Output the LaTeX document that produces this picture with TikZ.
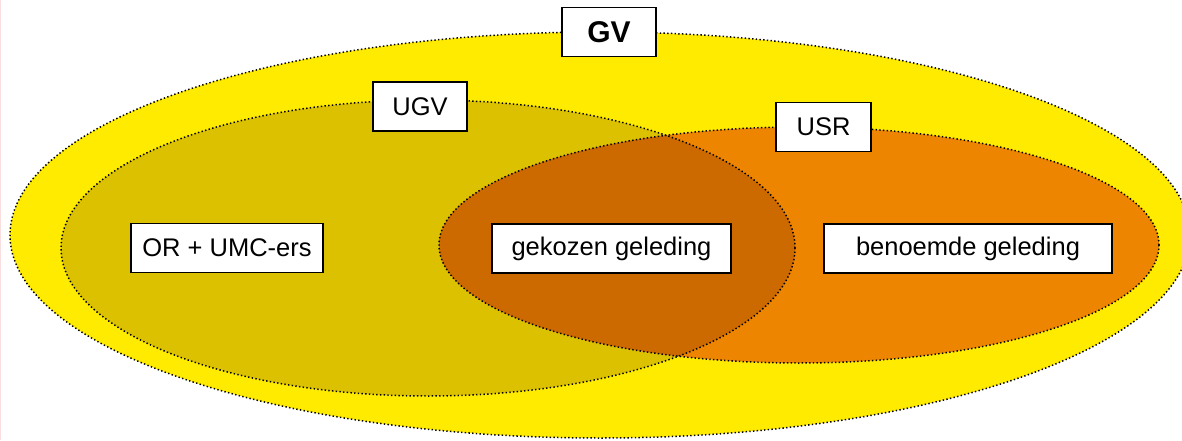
\documentclass[tikz,border=0pt]{standalone}
\usepackage{fontspec}
\setmainfont{Liberation Sans}
\usepackage{tikz}

\definecolor{gvyellow}{RGB}{255,235,0}
\definecolor{ugvyellow}{RGB}{219,193,0}
\definecolor{usrorange}{RGB}{238,133,0}
\definecolor{bothorange}{RGB}{204,106,0}
\definecolor{edgepink}{RGB}{248,222,222}

\begin{document}
\begin{tikzpicture}[x=1pt,y=1pt,
		dotline/.style={line width=1.5pt,dash pattern=on 1.4pt off 2.3pt},
		labelbox/.style={draw,line width=1.5pt,fill=white,inner sep=0pt,minimum height=49pt,font=\fontsize{25.5}{30}\selectfont}]
			\useasboundingbox (0, 0) rectangle (1182, 440);
			\draw[edgepink,line width=1pt] (0.5, 0) -- (0.5, 440);

			\fill[gvyellow] (600, 205) ellipse [x radius=590, y radius=203];
			\fill[ugvyellow] (428, 192) ellipse [x radius=367, y radius=148];
			\fill[usrorange] (799, 195) ellipse [x radius=360, y radius=118];
			\begin{scope}
				\clip (428, 192) ellipse [x radius=367, y radius=148];
				\fill[bothorange] (799, 195) ellipse [x radius=360, y radius=118];
			\end{scope}

			\draw[dotline] (600, 205) ellipse [x radius=590, y radius=203];
			\draw[dotline] (428, 192) ellipse [x radius=367, y radius=148];
			\draw[dotline] (799, 195) ellipse [x radius=360, y radius=118];

			\node[labelbox,minimum width=94pt,font=\fontsize{30}{34}\selectfont\bfseries] (gv) at (609, 408) {GV};
			\node[labelbox,minimum width=94pt] (ugv) at (420, 333.5) {UGV};
			\node[labelbox,minimum width=95pt] (usr) at (823.5, 313) {USR};
			\node[labelbox,minimum width=192pt] (or) at (227, 192) {OR + UMC-ers};
			\node[labelbox,minimum width=239pt] (gekozen) at (611.5, 191.5) {gekozen geleding};
			\node[labelbox,minimum width=288pt] (benoemd) at (968, 191.5) {benoemde geleding};
		\end{tikzpicture}
\end{document}
